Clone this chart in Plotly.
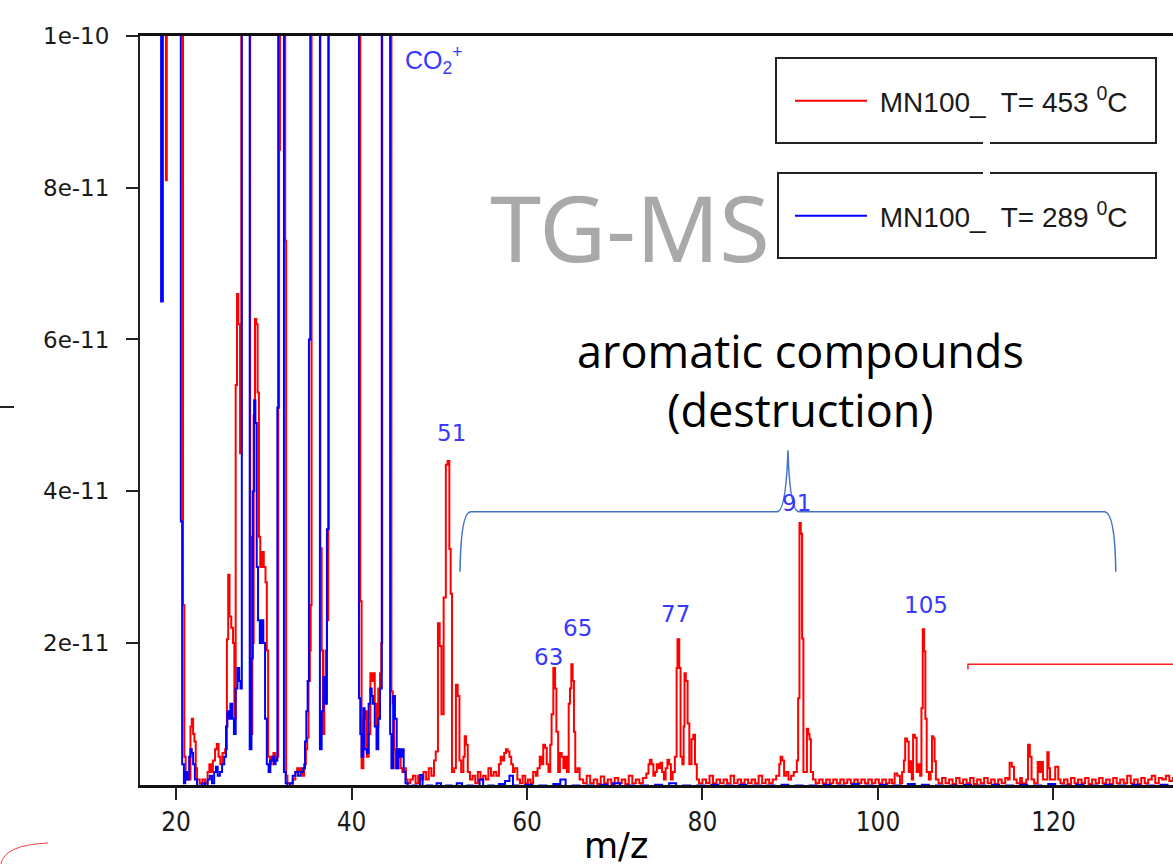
import plotly.graph_objects as go

# Ion current values are in units of 1e-11 (values above 10 are off scale, i.e. > 1e-10)
red_low = [
    (18.10, 13), (18.85, 8.1), (18.95, 13),
    (20.80, 2.5), (20.95, 0.5), (21.10, 0.2), (21.30, 0.3), (21.50, 0.2), (21.65, 0.9), (21.80, 1.0),
    (21.95, 0.8), (22.10, 0.7), (22.25, 0.35), (22.40, 0.2), (22.70, 0.15), (23.00, 0.2), (23.30, 0.15),
    (23.60, 0.3), (23.80, 0.4), (24.00, 0.3), (24.20, 0.45), (24.45, 0.6), (24.65, 0.67), (24.85, 0.5),
    (25.05, 0.4), (25.30, 0.55), (25.60, 0.6), (25.80, 2.05), (25.95, 2.9), (26.10, 2.35), (26.30, 2.2),
    (26.50, 2.0), (26.65, 1.0), (26.80, 5.4), (26.95, 6.6), (27.10, 6.2), (27.30, 4.5), (27.45, 13),
    (28.45, 3.4), (28.55, 0.8), (28.70, 2.0), (28.85, 5.0), (29.00, 6.27), (29.15, 6.2), (29.30, 5.3),
    (29.45, 3.4), (29.60, 3.0), (29.80, 3.2), (30.00, 3.0), (30.20, 2.8), (30.35, 1.9), (30.50, 0.5),
    (30.70, 0.4), (30.90, 0.5), (31.10, 0.55), (31.30, 0.45), (31.50, 0.5), (31.65, 5.1), (31.75, 8.5),
    (31.85, 13), (32.45, 7.3), (32.55, 0.25), (32.70, 0.15), (33.00, 0.1), (33.30, 0.2), (33.60, 0.3),
    (33.80, 0.35), (34.00, 0.3), (34.20, 0.35), (34.40, 0.25), (34.60, 0.4), (34.80, 0.6), (34.95, 0.75),
    (35.10, 1.5), (35.25, 1.9), (35.35, 2.5), (35.45, 13), (36.45, 3.25), (36.60, 1.9), (36.75, 0.8),
    (36.90, 1.4), (37.05, 1.9), (37.20, 2.3), (37.35, 13), (41.00, 2.55), (41.15, 0.35), (41.35, 1.0),
    (41.55, 1.1), (41.75, 0.5), (41.95, 0.8), (42.15, 1.6), (42.30, 1.5), (42.45, 1.6), (42.65, 1.2),
    (42.85, 0.9), (43.05, 1.4), (43.25, 1.6), (43.40, 2.0), (43.50, 13), (44.55, 1.36), (44.70, 1.2),
    (44.85, 0.6), (45.00, 0.35), (45.20, 0.6), (45.40, 0.5), (45.60, 0.35), (45.80, 0.3), (46.00, 0.35),
    (46.20, 0.2), (46.40, 0.15), (46.70, 0.2),
]

red_mid = [
    (47.00, 0.25), (47.30, 0.15), (47.60, 0.25), (47.90, 0.2), (48.20, 0.3), (48.50, 0.2), (48.80, 0.35),
    (49.10, 0.25), (49.40, 0.45), (49.60, 0.57), (49.85, 2.26), (50.05, 1.96), (50.25, 1.06), (50.50, 2.6),
    (50.75, 4.35), (50.95, 4.4), (51.15, 3.24), (51.30, 2.65), (51.45, 0.3), (51.70, 0.35), (51.90, 1.45),
    (52.10, 1.3), (52.30, 0.45), (52.50, 0.3), (52.75, 0.5), (52.90, 0.77), (53.05, 0.66), (53.25, 0.3),
    (53.50, 0.2), (53.80, 0.25), (54.10, 0.15), (54.40, 0.3), (54.70, 0.2), (55.00, 0.25), (55.30, 0.2),
    (55.60, 0.35), (55.90, 0.25), (56.20, 0.3), (56.50, 0.25), (56.80, 0.4), (57.00, 0.5), (57.20, 0.45),
    (57.40, 0.55), (57.60, 0.6), (57.80, 0.57), (58.00, 0.5), (58.20, 0.4), (58.40, 0.3), (58.60, 0.35),
    (58.90, 0.2), (59.20, 0.15), (59.50, 0.25), (59.80, 0.15), (60.10, 0.2), (60.40, 0.15), (60.70, 0.3),
    (61.00, 0.25), (61.20, 0.35), (61.45, 0.5), (61.65, 0.4), (61.85, 0.66), (62.05, 0.62), (62.25, 0.4),
    (62.45, 0.3), (62.65, 0.66), (62.80, 1.06), (63.00, 1.67), (63.20, 1.4), (63.35, 0.83), (63.55, 0.3),
    (63.75, 0.55), (63.95, 0.5), (64.15, 0.35), (64.35, 0.5), (64.55, 0.3), (64.75, 1.2), (64.90, 1.4),
    (65.05, 1.72), (65.20, 1.5), (65.35, 0.83), (65.50, 0.3), (65.75, 0.35), (66.00, 0.2), (66.40, 0.15),
    (66.80, 0.25), (67.20, 0.15), (67.60, 0.2), (68.00, 0.14), (68.40, 0.24), (68.80, 0.15), (69.20, 0.2),
    (69.60, 0.12), (70.00, 0.22), (70.40, 0.15), (70.80, 0.2), (71.20, 0.14), (71.60, 0.25), (72.00, 0.15),
    (72.40, 0.2), (72.80, 0.15), (73.20, 0.22), (73.60, 0.28), (73.85, 0.4), (74.00, 0.46), (74.20, 0.4),
    (74.40, 0.25), (74.60, 0.3), (74.80, 0.4), (75.00, 0.35), (75.20, 0.42), (75.40, 0.3), (75.60, 0.2),
    (75.80, 0.35), (76.00, 0.46), (76.20, 0.4), (76.40, 0.2), (76.60, 0.3), (76.85, 0.5), (77.05, 1.67),
    (77.15, 2.05), (77.35, 1.67), (77.50, 0.5), (77.70, 0.4), (77.85, 0.9), (77.95, 1.6), (78.10, 1.5),
    (78.30, 0.94), (78.50, 0.4), (78.75, 0.73), (78.95, 0.79), (79.15, 0.4), (79.35, 0.2),
]

red_high = [
    (79.60, 0.15), (80.00, 0.2), (80.40, 0.15), (80.80, 0.25), (81.20, 0.15), (81.60, 0.2), (82.00, 0.15),
    (82.40, 0.2), (82.80, 0.15), (83.20, 0.25), (83.60, 0.15), (84.00, 0.2), (84.40, 0.15), (84.80, 0.2),
    (85.20, 0.15), (85.60, 0.2), (86.00, 0.15), (86.40, 0.25), (86.80, 0.15), (87.20, 0.2), (87.60, 0.15),
    (88.00, 0.2), (88.40, 0.25), (88.75, 0.4), (88.90, 0.5), (89.10, 0.45), (89.30, 0.25), (89.55, 0.3),
    (89.80, 0.2), (90.10, 0.25), (90.40, 0.3), (90.75, 0.45), (90.90, 1.27), (91.05, 3.58), (91.20, 3.44),
    (91.35, 2.06), (91.50, 0.3), (91.70, 0.3), (91.90, 0.87), (92.05, 0.8), (92.20, 0.73), (92.35, 0.3),
    (92.60, 0.2), (92.90, 0.15), (93.30, 0.2), (93.70, 0.15), (94.10, 0.2), (94.50, 0.15), (94.90, 0.2),
    (95.30, 0.15), (95.70, 0.2), (96.10, 0.15), (96.50, 0.2), (96.90, 0.15), (97.30, 0.2), (97.70, 0.15),
    (98.10, 0.2), (98.50, 0.15), (98.90, 0.2), (99.30, 0.15), (99.70, 0.2), (100.10, 0.15), (100.50, 0.2),
    (100.90, 0.15), (101.30, 0.2), (101.60, 0.15), (101.90, 0.28), (102.20, 0.25), (102.50, 0.15),
    (102.75, 0.3), (102.95, 0.45), (103.10, 0.74), (103.30, 0.7), (103.50, 0.3), (103.65, 0.44),
    (103.85, 0.2), (104.00, 0.79), (104.20, 0.75), (104.40, 0.3), (104.60, 0.4), (104.80, 0.25),
    (104.95, 1.14), (105.10, 2.18), (105.25, 1.89), (105.40, 1.0), (105.55, 0.3), (105.80, 0.2),
    (106.00, 0.3), (106.15, 0.77), (106.30, 0.74), (106.45, 0.44), (106.60, 0.2), (106.90, 0.15),
    (107.30, 0.22), (107.70, 0.15), (108.10, 0.2), (108.50, 0.14), (108.90, 0.22), (109.30, 0.15),
    (109.70, 0.2), (110.10, 0.15), (110.50, 0.22), (110.90, 0.14), (111.30, 0.2), (111.70, 0.15),
    (112.10, 0.22), (112.50, 0.15), (112.90, 0.2), (113.30, 0.14), (113.70, 0.2), (114.10, 0.15),
    (114.50, 0.22), (114.80, 0.2), (115.00, 0.42), (115.25, 0.37), (115.50, 0.2), (115.80, 0.15),
    (116.20, 0.22), (116.40, 0.15), (116.90, 0.2), (117.10, 0.66), (117.30, 0.5), (117.50, 0.2),
    (117.80, 0.15), (118.20, 0.43), (118.40, 0.3), (118.60, 0.43), (118.80, 0.2), (119.30, 0.56),
    (119.45, 0.35), (119.60, 0.2), (120.20, 0.37), (120.40, 0.37), (120.55, 0.2), (120.80, 0.15),
    (121.20, 0.2), (121.60, 0.14), (122.00, 0.22), (122.40, 0.15), (122.80, 0.2), (123.20, 0.15),
    (123.60, 0.22), (124.00, 0.14), (124.40, 0.2), (124.80, 0.15), (125.20, 0.22), (125.60, 0.15),
    (126.00, 0.2), (126.40, 0.14), (126.80, 0.22), (127.20, 0.15), (127.60, 0.2), (128.00, 0.15),
    (128.40, 0.25), (128.80, 0.15), (129.20, 0.2), (129.60, 0.14), (130.00, 0.22), (130.40, 0.15),
    (130.80, 0.2), (131.20, 0.25), (131.60, 0.15), (132.00, 0.22), (132.40, 0.2), (132.80, 0.25),
    (133.20, 0.18), (133.60, 0.22), (134.00, 0.2),
]

blue_low = [
    (18.10, 13), (18.30, 6.5), (18.50, 13),
    (20.55, 3.6), (20.70, 0.4), (20.90, 0.15), (21.05, 0.3), (21.25, 0.2), (21.50, 0.5), (21.65, 0.6),
    (21.80, 0.55), (21.95, 0.4), (22.15, 0.2), (22.40, 0.1), (22.70, 0.12), (23.00, 0.15), (23.30, 0.1),
    (23.60, 0.2), (23.85, 0.25), (24.10, 0.15), (24.35, 0.3), (24.55, 0.37), (24.75, 0.25), (25.00, 0.3),
    (25.25, 0.4), (25.50, 0.5), (25.70, 0.9), (25.85, 1.1), (26.00, 1.0), (26.20, 1.2), (26.40, 1.0),
    (26.60, 0.8), (26.80, 1.4), (27.00, 1.67), (27.20, 1.5), (27.35, 1.4), (27.50, 13),
    (28.40, 0.6), (28.60, 1.8), (28.75, 4.0), (28.90, 5.2), (29.05, 4.9), (29.20, 3.0), (29.35, 2.3),
    (29.55, 2.0), (29.75, 2.3), (29.95, 2.0), (30.15, 1.0), (30.35, 0.4), (30.55, 0.3), (30.75, 0.45),
    (30.95, 0.5), (31.15, 0.4), (31.35, 0.45), (31.55, 5.1), (31.65, 13), (32.30, 0.3), (32.50, 0.15),
    (32.70, 0.1), (33.00, 0.15), (33.30, 0.25), (33.60, 0.3), (33.90, 0.25), (34.20, 0.3), (34.50, 0.35),
    (34.70, 0.7), (34.85, 1.1), (35.00, 1.5), (35.15, 6.0), (35.30, 13), (36.40, 0.6), (36.60, 1.1),
    (36.80, 1.55), (37.00, 1.2), (37.20, 3.5), (37.40, 13), (40.85, 1.27), (41.00, 0.8), (41.15, 0.5),
    (41.35, 1.14), (41.50, 0.6), (41.75, 0.55), (41.95, 1.2), (42.15, 1.4), (42.30, 1.3), (42.45, 1.2),
    (42.65, 0.9), (42.85, 0.6), (43.05, 1.0), (43.25, 1.4), (43.45, 13), (44.40, 0.8), (44.55, 0.35),
    (44.75, 1.3), (44.95, 1.0), (45.15, 0.35), (45.35, 0.6), (45.55, 0.5), (45.75, 0.6), (45.95, 0.3),
    (46.15, 0.15), (46.40, 0.1),
]

blue_high = [
    (46.70, 0.1), (47.00, 0.12), (47.40, 0.08), (47.80, 0.26), (48.10, 0.1), (48.60, 0.12), (49.20, 0.08),
    (49.70, 0.15), (50.20, 0.1), (50.80, 0.12), (51.40, 0.08), (52.00, 0.15), (52.60, 0.1), (53.20, 0.12),
    (53.80, 0.08), (54.60, 0.2), (55.00, 0.1), (55.60, 0.12), (56.20, 0.08), (56.80, 0.14), (57.50, 0.18),
    (58.00, 0.25), (58.40, 0.12), (59.00, 0.1), (59.80, 0.13), (60.60, 0.08), (61.40, 0.12), (62.20, 0.09),
    (63.00, 0.14), (63.80, 0.2), (64.40, 0.1), (65.20, 0.12), (66.00, 0.08), (66.80, 0.12), (67.60, 0.09),
    (68.40, 0.13), (69.20, 0.08), (69.80, 0.15), (70.60, 0.1), (71.40, 0.12), (72.20, 0.08), (73.00, 0.12),
    (73.80, 0.1), (74.60, 0.13), (75.40, 0.08), (76.20, 0.15), (77.00, 0.1), (77.80, 0.12), (78.60, 0.08),
    (79.40, 0.12), (80.20, 0.09), (81.00, 0.13), (81.80, 0.08), (82.60, 0.12), (83.40, 0.1), (84.20, 0.13),
    (85.00, 0.08), (85.80, 0.12), (86.60, 0.1), (87.40, 0.12), (88.20, 0.08), (89.00, 0.13), (89.80, 0.1),
    (90.60, 0.12), (91.40, 0.08), (92.20, 0.12), (93.00, 0.1), (93.80, 0.13), (94.60, 0.08), (95.40, 0.12),
    (96.20, 0.1), (97.00, 0.14), (97.80, 0.08), (98.60, 0.12), (99.40, 0.1), (100.20, 0.13), (101.00, 0.08),
    (101.80, 0.12), (102.60, 0.1), (103.40, 0.14), (104.20, 0.08), (105.00, 0.13), (105.80, 0.1),
    (106.60, 0.12), (107.40, 0.08), (108.20, 0.12), (109.00, 0.1), (109.80, 0.13), (110.60, 0.08),
    (111.40, 0.12), (112.20, 0.1), (113.00, 0.13), (113.80, 0.08), (114.60, 0.12), (115.40, 0.1),
    (116.20, 0.13), (117.00, 0.08), (117.80, 0.12), (118.60, 0.1), (119.40, 0.14), (120.20, 0.08),
    (121.00, 0.12), (121.80, 0.1), (122.60, 0.13), (123.40, 0.08), (124.20, 0.12), (125.00, 0.1),
    (125.80, 0.13), (126.60, 0.08), (127.40, 0.12), (128.20, 0.1), (129.00, 0.13), (129.80, 0.08),
    (130.60, 0.12), (131.40, 0.1), (132.20, 0.13), (133.00, 0.08), (133.80, 0.12),
]

x_ticks = [20, 40, 60, 80, 100, 120]
y_ticks = [2, 4, 6, 8, 10]
y_tick_text = ["2e-11", "4e-11", "6e-11", "8e-11", "1e-10"]

peak_labels = ["51", "63", "65", "77", "91", "105"]
peak_label_x = [51.45, 62.5, 65.7, 76.9, 90.7, 105.5]
peak_label_y = [4.77, 1.82, 2.20, 2.38, 3.85, 2.50]

red_name = "\u00a0MN100_\u00a0 T= 453 <sup>0</sup>C"
blue_name = "\u00a0MN100_\u00a0 T= 289 <sup>0</sup>C"

# ---------------- layout geometry ----------------
W, H = 1173, 866
ML, MR, MT, MB = 140, 0, 36, 81
PW, PH = W - ML - MR, H - MT - MB

NARROW = "Liberation Sans Narrow, DejaVu Sans Condensed, Liberation Sans"
WIDE = "DejaVu Sans"


def px(xp):
    return (xp - ML) / PW


def py(yp):
    return (H - MB - yp) / PH


rx, ry = zip(*(red_low + red_mid + red_high))
bx, by = zip(*(blue_low + blue_high))

fig = go.Figure()
fig.add_trace(go.Scatter(x=rx, y=ry, mode="lines", line=dict(color="#ff0000", width=2, shape="hv"),
                         name=red_name, legend="legend", showlegend=True))
fig.add_trace(go.Scatter(x=bx, y=by, mode="lines", line=dict(color="#0000ff", width=2, shape="hv"),
                         name=blue_name, legend="legend2", showlegend=True))

ann = []
for t, x, y in zip(peak_labels, peak_label_x, peak_label_y):
    ann.append(dict(x=x, y=y, xref="x", yref="y", text=t, showarrow=False,
                    font=dict(size=23, color="#3838ff", family=WIDE)))
ann.append(dict(x=45.85, y=9.68, xref="x", yref="y", xanchor="left", text="CO<sub>2</sub><sup>+</sup>",
                showarrow=False, font=dict(size=25, color="#3838ff", family="Liberation Sans")))
ann.append(dict(x=px(772), y=py(226), xref="paper", yref="paper", xanchor="right", yanchor="middle",
                text="TG-MS", showarrow=False, font=dict(size=92, color="#aaa8a8", family="Noto Sans")))
ann.append(dict(x=px(800), y=py(380), xref="paper", yref="paper", xanchor="center", yanchor="middle",
                text="aromatic compounds<br>(destruction)", showarrow=False,
                font=dict(size=45, color="#000000", family="Open Sans")))
ann.append(dict(x=px(616), y=py(846), xref="paper", yref="paper", xanchor="center", yanchor="middle",
                text="m/z", showarrow=False, font=dict(size=35, color="#000000", family=WIDE)))

shapes = []
# curly brace over the aromatic fragment peaks
shapes.append(dict(type="path", xref="x", yref="y", layer="above",
                   path="M52.37,2.94 Q52.45,3.73 53.6,3.73 L88.5,3.73 Q89.5,3.73 89.74,4.54 "
                        "Q89.95,3.73 91.0,3.73 L125.8,3.73 Q127.0,3.73 127.1,2.94",
                   line=dict(color="#4472c4", width=1.5)))
# red bracket on the right
shapes.append(dict(type="path", xref="x", yref="y", layer="above",
                   path="M110.25,1.65 L110.25,1.72 L134.5,1.72", line=dict(color="#ff2020", width=1.5)))


def box(x0, y0, x1, y1, gap_side):
    g0, g1 = px(983), px(990)
    X0, X1, Y0, Y1 = px(x0), px(x1), py(y0), py(y1)
    if gap_side == "bottom":
        p = f"M{g0},{Y1} L{X0},{Y1} L{X0},{Y0} L{X1},{Y0} L{X1},{Y1} L{g1},{Y1}"
    else:
        p = f"M{g0},{Y0} L{X0},{Y0} L{X0},{Y1} L{X1},{Y1} L{X1},{Y0} L{g1},{Y0}"
    return dict(type="path", xref="paper", yref="paper", layer="above", path=p,
                line=dict(color="#222222", width=2))


shapes.append(dict(type="rect", xref="paper", yref="paper", layer="above", x0=px(776), x1=px(1156),
                   y0=py(143), y1=py(58), fillcolor="white", line=dict(width=0)))
shapes.append(dict(type="rect", xref="paper", yref="paper", layer="above", x0=px(778), x1=px(1156),
                   y0=py(258), y1=py(173), fillcolor="white", line=dict(width=0)))
shapes.append(box(776, 58, 1156, 143, "bottom"))
shapes.append(box(778, 173, 1156, 258, "top"))
# stray marks at the left margin of the original figure
shapes.append(dict(type="line", xref="paper", yref="paper", x0=px(0), x1=px(14), y0=py(407), y1=py(407),
                   line=dict(color="#222222", width=2)))
shapes.append(dict(type="path", xref="paper", yref="paper",
                   path=f"M{px(1)},{py(864)} Q{px(4)},{py(845)} {px(48)},{py(843)}",
                   line=dict(color="#ff4040", width=1)))

leg_common = dict(xanchor="left", yanchor="middle", bgcolor="rgba(0,0,0,0)", borderwidth=0,
                  font=dict(size=28, color="#1a1a1a", family="Liberation Sans"), itemwidth=72)

fig.update_layout(
    width=W, height=H, margin=dict(l=ML, r=MR, t=MT, b=MB),
    paper_bgcolor="white", plot_bgcolor="white", showlegend=True,
    font=dict(family="Liberation Sans", color="#1a1a1a"),
    annotations=ann, shapes=shapes,
    legend=dict(x=px(790), y=py(101), **leg_common),
    legend2=dict(x=px(790), y=py(216), **leg_common),
    xaxis=dict(range=[15.897, 133.62], tickvals=x_ticks, ticks="outside", ticklen=12, tickwidth=2,
               tickcolor="#222", showline=True, linewidth=3, linecolor="#111", mirror=True,
               showgrid=False, zeroline=False, tickfont=dict(size=26, family=NARROW),
               ticklabelstandoff=0),
    yaxis=dict(range=[0.128, 10.0], tickvals=y_ticks, ticktext=y_tick_text, ticks="outside", ticklen=12,
               tickwidth=2, tickcolor="#222", showline=True, linewidth=2, linecolor="#222",
               showgrid=False, zeroline=False, tickfont=dict(size=23, family=WIDE),
               ticklabelstandoff=12),
)

fig.write_html("out.html")
